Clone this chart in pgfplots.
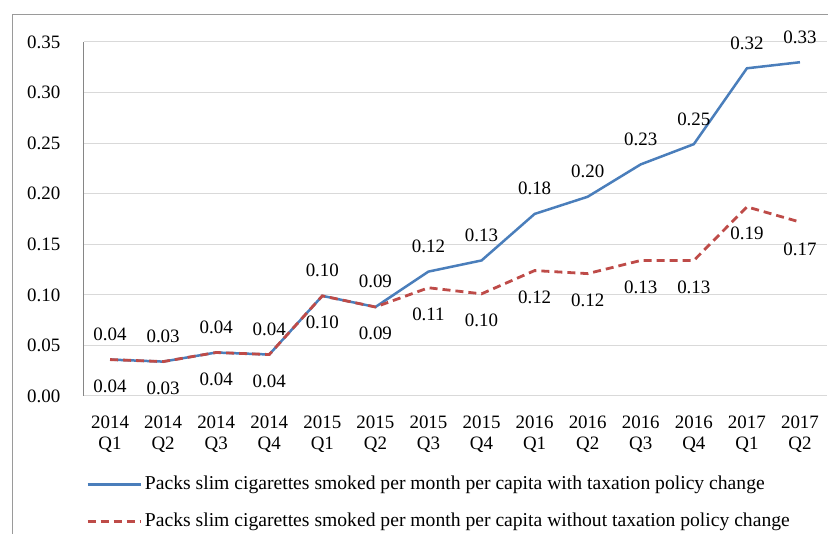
\documentclass[border=0pt]{standalone}
\usepackage{fontspec}
\setmainfont{Liberation Serif}
\usepackage{pgfplots}
\pgfplotsset{compat=1.18}
\definecolor{withtax}{HTML}{4A7EBB}
\definecolor{notax}{HTML}{BE4B48}
\definecolor{gridgray}{HTML}{D9D9D9}
\definecolor{axisgray}{HTML}{868686}
\definecolor{framegray}{HTML}{9A9A9A}
\newcommand{\chartfont}{\fontsize{19}{21}\selectfont}
\newcommand{\legendfont}{\fontsize{19.7}{21}\selectfont}

\begin{document}
\begin{tikzpicture}[x=1bp,y=1bp]
\useasboundingbox (0,0) rectangle (828,534);
% outer chart frame
\draw[framegray, line width=1bp] (12.5,0) -- (12.5,519) -- (828,519);
\begin{axis}[
  at={(83.5bp,138bp)}, anchor=south west,
  scale only axis, width=743bp, height=354bp,
  xmin=-0.5, xmax=13.5, ymin=0, ymax=0.35,
  separate axis lines,
  axis x line*=bottom, axis y line*=left,
  x axis line style={draw=none},
  y axis line style={axisgray, line width=1bp, -},
  major tick length=0pt,
  ymajorgrids, grid style={gridgray, line width=1bp},
  ytick={0,0.05,0.1,0.15,0.2,0.25,0.3,0.35},
  yticklabels={0.00,0.05,0.10,0.15,0.20,0.25,0.30,0.35},
  yticklabel style={font=\chartfont, inner sep=0pt, anchor=east, xshift=-23bp},
  xtick={0,...,13},
  xticklabels={{2014\\Q1},{2014\\Q2},{2014\\Q3},{2014\\Q4},
               {2015\\Q1},{2015\\Q2},{2015\\Q3},{2015\\Q4},
               {2016\\Q1},{2016\\Q2},{2016\\Q3},{2016\\Q4},
               {2017\\Q1},{2017\\Q2}},
  xticklabel style={font=\chartfont, align=center, inner sep=0pt, anchor=north, yshift=-20bp},
  /pgf/number format/assume math mode=true,
  /pgf/number format/fixed, /pgf/number format/fixed zerofill,
  /pgf/number format/precision=2,
  nodes near coords,
  every node near coord/.append style={font=\chartfont, inner sep=0pt, text=black},
  legend style={draw=none, fill=none, at={(0,0)}, anchor=north west,
    xshift=-0.5bp, yshift=-78bp, font=\legendfont, row sep=20bp,
    nodes={inner sep=0pt, text height=13bp, text depth=4bp}},
  legend cell align=left,
  legend image code/.code={\draw[#1] (0bp,0bp) -- (53bp,0bp);},
  clip=false,
]
\addplot[withtax, line width=2.5bp, nodes near coords style={anchor=south, yshift=17.5bp}]
  coordinates {(0,0.036) (1,0.034) (2,0.043) (3,0.041) (4,0.099) (5,0.088) (6,0.123)
               (7,0.134) (8,0.180) (9,0.197) (10,0.229) (11,0.249) (12,0.324) (13,0.330)};
\addlegendentry{\hspace{3bp}Packs slim cigarettes smoked per month per capita with taxation policy change}
\addplot[notax, line width=2.8bp, dash pattern=on 8bp off 5bp, nodes near coords style={anchor=north, yshift=-19bp}]
  coordinates {(0,0.036) (1,0.034) (2,0.043) (3,0.041) (4,0.099) (5,0.088) (6,0.107)
               (7,0.101) (8,0.124) (9,0.121) (10,0.134) (11,0.134) (12,0.187) (13,0.172)};
\addlegendentry{\hspace{3bp}Packs slim cigarettes smoked per month per capita without taxation policy change}
\end{axis}
\end{tikzpicture}
\end{document}
